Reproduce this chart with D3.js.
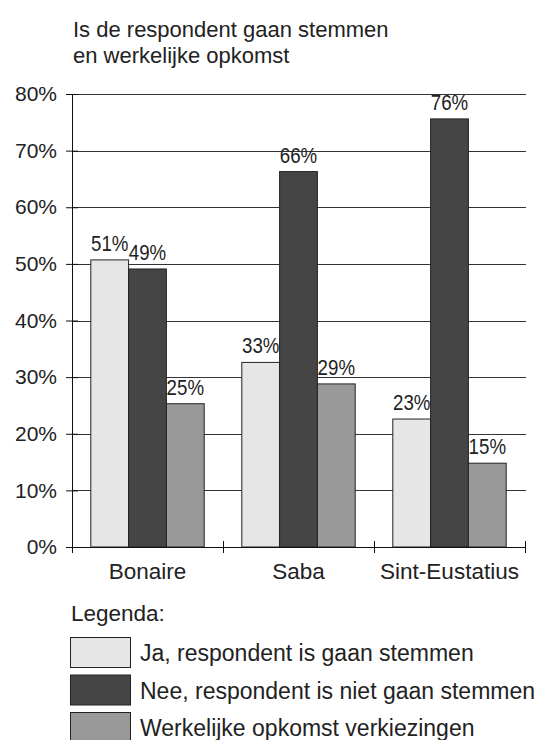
<!DOCTYPE html>
<html>
<head>
<meta charset="utf-8">
<script src="https://cdn.jsdelivr.net/npm/d3@7"></script>
<style>
  body { margin: 0; background: #fff; }
  svg { display: block; font-family: 'Liberation Sans', Arial, sans-serif; }
</style>
</head>
<body>
<div id="app"></div>
<script>
// Chart values.
const categories = ['Bonaire', 'Saba', 'Sint-Eustatius'];
const seriesNames = [
  'Ja, respondent is gaan stemmen',
  'Nee, respondent is niet gaan stemmen',
  'Werkelijke opkomst verkiezingen'
];
const jaValues = [50.7, 32.6, 22.6];
const neeValues = [49.1, 66.3, 75.6];
const opkomstValues = [25.3, 28.8, 14.8];
const yTicks = [0, 10, 20, 30, 40, 50, 60, 70, 80];
const titleLines = ['Is de respondent gaan stemmen', 'en werkelijke opkomst'];

const seriesValues = [jaValues, neeValues, opkomstValues];
const seriesColors = ['#e6e6e6', '#454545', '#999999'];

// Layout settings.
const svgWidth = 554;
const svgHeight = 740;
const plot = { left: 72, right: 525, top: 94, bottom: 547 };
const textColor = '#222';

const svg = d3.select('#app')
  .append('svg')
  .attr('width', svgWidth)
  .attr('height', svgHeight);

// Title
svg.append('text')
  .attr('x', 73)
  .attr('y', 37)
  .attr('fill', textColor)
  .style('font-size', '22px')
  .selectAll('tspan')
  .data(titleLines)
  .join('tspan')
  .attr('x', 73)
  .attr('dy', (d, i) => (i === 0 ? 0 : 26))
  .text((d) => d);

const x = d3.scaleBand().domain(categories).range([plot.left, plot.right]);
const groupPad = 18.8;
const xInner = d3.scaleBand()
  .domain(d3.range(seriesNames.length))
  .range([groupPad, x.bandwidth() - groupPad]);
const y = d3.scaleLinear().domain([0, 80]).range([plot.bottom, plot.top]);

// Gridlines
svg.append('g')
  .selectAll('line')
  .data(yTicks.filter((t) => t > 0))
  .join('line')
  .attr('x1', plot.left)
  .attr('x2', plot.right + 1)
  .attr('y1', (d) => Math.round(y(d)) + 0.5)
  .attr('y2', (d) => Math.round(y(d)) + 0.5)
  .attr('stroke', '#333')
  .attr('stroke-width', 1);

// Bars
const groups = svg.append('g')
  .selectAll('g')
  .data(categories)
  .join('g')
  .attr('transform', (d) => `translate(${x(d)},0)`);

const barData = (d, ci) => seriesValues.map((vals, si) => ({ si, value: vals[ci] }));

groups.selectAll('rect')
  .data(barData)
  .join('rect')
  .attr('x', (d) => xInner(d.si))
  .attr('width', xInner.bandwidth())
  .attr('y', (d) => y(d.value))
  .attr('height', (d) => y(0) - y(d.value))
  .attr('fill', (d) => seriesColors[d.si])
  .attr('stroke', '#222')
  .attr('stroke-width', 1);

// Value labels (condensed look, like the original)
groups.selectAll('text.value')
  .data(barData)
  .join('text')
  .attr('class', 'value')
  .attr('transform', (d) =>
    `translate(${xInner(d.si) + xInner.bandwidth() / 2},${y(d.value) - 9}) scale(0.85,1)`)
  .attr('text-anchor', 'middle')
  .attr('fill', textColor)
  .style('font-size', '22px')
  .text((d) => `${Math.round(d.value)}%`);

// Y axis
const yAxis = svg.append('g')
  .attr('transform', `translate(${plot.left},0)`)
  .call(d3.axisLeft(y).tickValues(yTicks).tickSize(6).tickPadding(8).tickFormat((d) => `${d}%`));
yAxis.select('.domain').remove();
yAxis.selectAll('.tick line').attr('x1', -6).attr('x2', 6).attr('stroke', '#111');
yAxis.selectAll('.tick text')
  .attr('x', -15)
  .attr('fill', textColor)
  .style('font-size', '21px')
  .style('font-family', "'Liberation Sans', Arial, sans-serif");
yAxis.append('line')
  .attr('x1', 0.5).attr('x2', 0.5)
  .attr('y1', plot.top).attr('y2', plot.bottom + 6)
  .attr('stroke', '#111');

// X axis
const xAxis = svg.append('g')
  .attr('transform', `translate(0,${plot.bottom})`);
xAxis.append('line')
  .attr('x1', plot.left - 6).attr('x2', plot.right + 1)
  .attr('y1', 0.5).attr('y2', 0.5)
  .attr('stroke', '#111');
xAxis.selectAll('line.sep')
  .data(categories)
  .join('line')
  .attr('class', 'sep')
  .attr('x1', (d) => x(d) + x.bandwidth() + 0.5)
  .attr('x2', (d) => x(d) + x.bandwidth() + 0.5)
  .attr('y1', -6).attr('y2', 6)
  .attr('stroke', '#111');
xAxis.selectAll('text')
  .data(categories)
  .join('text')
  .attr('x', (d) => x(d) + x.bandwidth() / 2)
  .attr('y', 32)
  .attr('text-anchor', 'middle')
  .attr('fill', textColor)
  .style('font-size', '22.5px')
  .text((d) => d);

// Legend
svg.append('text')
  .attr('x', 71)
  .attr('y', 621)
  .attr('fill', textColor)
  .style('font-size', '22.5px')
  .text('Legenda:');

const legend = svg.append('g')
  .selectAll('g')
  .data(seriesNames)
  .join('g')
  .attr('transform', (d, i) => `translate(70,${637 + i * 37.5})`);
legend.append('rect')
  .attr('x', 0.5).attr('y', 0.5)
  .attr('width', 60).attr('height', 30)
  .attr('fill', (d, i) => seriesColors[i])
  .attr('stroke', '#222');
legend.append('text')
  .attr('x', 70)
  .attr('y', 24)
  .attr('fill', textColor)
  .style('font-size', '23px')
  .text((d) => d);
</script>
</body>
</html>
